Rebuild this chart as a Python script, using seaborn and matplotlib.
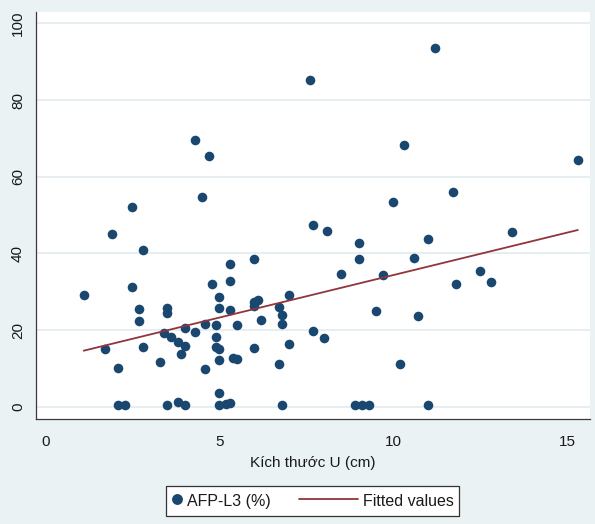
import matplotlib
matplotlib.use("Agg")
import matplotlib.pyplot as plt
import numpy as np
import pandas as pd
import seaborn as sns
from matplotlib.lines import Line2D
from matplotlib.legend_handler import HandlerLine2D

# Tumour size (cm) and AFP-L3 (%) for each patient
size_cm = [
    1.1, 1.7, 1.9, 2.1, 2.1, 2.3, 2.5, 2.5, 2.7, 2.7,
    2.8, 2.8, 3.3, 3.4, 3.5, 3.5, 3.5, 3.6, 3.8, 3.8,
    3.9, 4.0, 4.0, 4.0, 4.3, 4.3, 4.5, 4.6, 4.6, 4.7,
    4.8, 4.9, 4.9, 4.9, 5.0, 5.0, 5.0, 5.0, 5.0, 5.0,
    5.2, 5.3, 5.3, 5.3, 5.3, 5.4, 5.5, 5.5, 6.0, 6.0,
    6.1, 6.0, 6.2, 6.0, 6.7, 6.8, 6.8, 6.7, 6.8, 7.0,
    7.0, 7.6, 7.7, 7.7, 8.0, 8.1, 8.5, 8.9, 9.0, 9.0,
    9.1, 9.3, 9.5, 9.7, 10.0, 10.2, 10.3, 10.6, 10.7, 11.0,
    11.0, 11.2, 11.7, 11.8, 12.5, 12.8, 13.4, 15.3,
]
afp_l3 = [
    29.1, 15.0, 45.0, 10.0, 0.4, 0.4, 52.0, 31.3, 25.4, 22.5,
    40.8, 15.6, 11.7, 19.2, 25.8, 24.5, 0.4, 18.2, 17.0, 1.2,
    13.7, 20.5, 15.8, 0.4, 69.5, 19.5, 54.7, 21.7, 9.9, 65.5,
    32.0, 21.3, 18.1, 15.7, 28.7, 25.7, 15.0, 12.3, 3.5, 0.4,
    0.6, 0.9, 37.3, 32.7, 25.2, 12.6, 12.4, 21.3, 38.6, 27.4,
    27.9, 26.3, 22.6, 15.2, 25.9, 23.9, 21.6, 11.1, 0.4, 29.2,
    16.5, 85.3, 47.5, 19.8, 17.9, 45.8, 34.6, 0.4, 42.7, 38.6,
    0.4, 0.4, 25.0, 34.5, 53.4, 11.1, 68.3, 38.7, 23.6, 43.7,
    0.4, 93.5, 56.0, 32.0, 35.5, 32.5, 45.7, 64.4,
]
x_ticks = [0, 5, 10, 15]
y_ticks = [0, 20, 40, 60, 80, 100]
x_label = "Kích thước U (cm)"
series_labels = ["AFP-L3 (%)", "Fitted values"]

df = pd.DataFrame({"size": size_cm, "afp": afp_l3})

NAVY = "#1a476f"
MAROON = "#90353b"
BG = "#eaf2f3"
GRID = "#e6eef1"
AXC = "#3a3a3a"

sns.set_theme(style="white")
plt.rcParams["font.family"] = ["Liberation Sans", "DejaVu Sans"]

W, H = 595, 524
fig = plt.figure(figsize=(W / 100, H / 100), dpi=100)
fig.patch.set_facecolor(BG)

ax = fig.add_axes([36 / W, (H - 419) / H, (590 - 36) / W, (419 - 12) / H])
ax.set_facecolor("white")

sns.scatterplot(data=df, x="size", y="afp", ax=ax, color=NAVY, s=48,
                edgecolor=NAVY, linewidth=0, legend=False, zorder=3)
sns.regplot(data=df, x="size", y="afp", ax=ax, scatter=False, ci=None,
            truncate=True, color=MAROON, line_kws={"lw": 1.3, "zorder": 4})

ax.set_xlim(-0.27, 15.65)
ax.set_ylim(-3.2, 103.0)
ax.set_xticks(x_ticks)
ax.set_yticks(y_ticks)
ax.set_xticklabels([str(v) for v in x_ticks])
ax.set_yticklabels([str(v) for v in y_ticks], rotation=90, va="center")

ax.yaxis.grid(True, color=GRID, lw=1.4)
ax.xaxis.grid(False)
ax.set_axisbelow(True)

for side in ("top", "right"):
    ax.spines[side].set_visible(False)
for side in ("left", "bottom"):
    ax.spines[side].set_color(AXC)
    ax.spines[side].set_linewidth(0.9)

ax.tick_params(axis="both", direction="out", length=4.5, width=0.8,
               color=AXC, labelsize=11, labelcolor="#1a1a1a")
ax.tick_params(axis="x", pad=7)
ax.tick_params(axis="y", pad=3.5)

ax.set_xlabel(x_label, fontsize=11, color="#1a1a1a", labelpad=5)
ax.set_ylabel("")

marker_h = Line2D([], [], ls="none", marker="o", ms=6.8, color=NAVY, mec=NAVY)
line_h = Line2D([], [], color=MAROON, lw=1.3)
leg = fig.legend(
    [marker_h, line_h], series_labels,
    loc="center", bbox_to_anchor=(312.5 / W, 1 - 501 / H), ncol=2,
    frameon=True, fancybox=False, edgecolor="#333333", facecolor="white",
    framealpha=1, fontsize=11.5, handlelength=0.7, handleheight=1.4,
    handletextpad=0.3, columnspacing=4.75, borderpad=0.35,
    handler_map={line_h: HandlerLine2D(xpad=-3.0)},
)
leg.get_frame().set_linewidth(0.9)
for t in leg.get_texts():
    t.set_color("#1a1a1a")

fig.savefig("out.png", dpi=100, facecolor=fig.get_facecolor())
